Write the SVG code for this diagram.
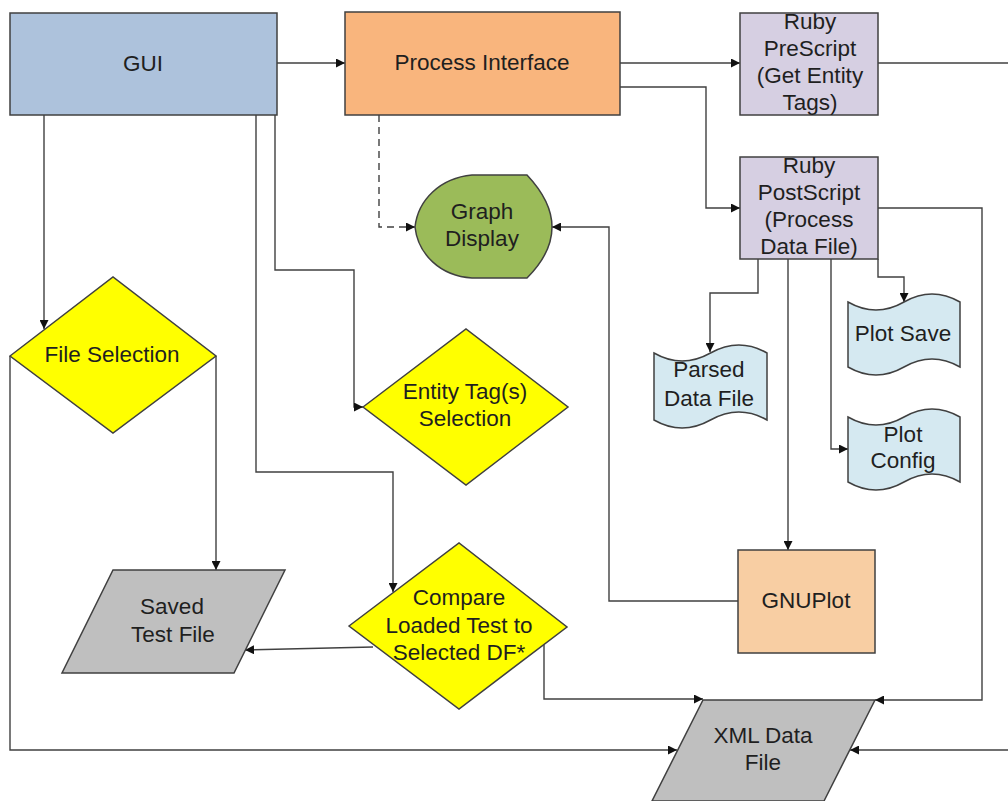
<svg xmlns="http://www.w3.org/2000/svg" width="1008" height="801" viewBox="0 0 1008 801">
<style>
.s{stroke:#404040;stroke-width:1.5}
.t{font-family:"Liberation Sans",Arial,sans-serif;font-size:22.5px;fill:#1f1f1f;text-anchor:middle}
.c{fill:none;stroke:#404040;stroke-width:1.4}
.d{stroke-dasharray:7 5}
</style>
<defs>
<marker id="a" viewBox="0 0 10 10" refX="10" refY="5" markerWidth="9" markerHeight="9" markerUnits="userSpaceOnUse" orient="auto">
<path d="M0,0 L10,5 L0,10 z" fill="#111"/>
</marker>
</defs>
<rect width="1008" height="801" fill="#fff"/>
<g id="connectors">
<path class="c" d="M277,63 H345" marker-end="url(#a)"/>
<path class="c" d="M620,63 H740" marker-end="url(#a)"/>
<path class="c" d="M878,63 H1008"/>
<path class="c" d="M620,87 H706 V208 H740" marker-end="url(#a)"/>
<path class="c d" d="M379,115 V227 H415" marker-end="url(#a)"/>
<path class="c" d="M878,208 H982 V700 H875" marker-end="url(#a)"/>
<path class="c" d="M758,259 V293 H710 V352" marker-end="url(#a)"/>
<path class="c" d="M788,259 V550" marker-end="url(#a)"/>
<path class="c" d="M831,259 V449 H848" marker-end="url(#a)"/>
<path class="c" d="M878,259 V277 H904 V302" marker-end="url(#a)"/>
<path class="c" d="M738,601 H609 V227 H552" marker-end="url(#a)"/>
<path class="c" d="M44,115 V329" marker-end="url(#a)"/>
<path class="c" d="M275,115 V270 H354 V407 H363" marker-end="url(#a)"/>
<path class="c" d="M256,115 V472 H393 V592" marker-end="url(#a)"/>
<path class="c" d="M216,356 V570" marker-end="url(#a)"/>
<path class="c" d="M10,356 V750 H677" marker-end="url(#a)"/>
<path class="c" d="M373,647 L245,650" marker-end="url(#a)"/>
<path class="c" d="M544,645 V699 H703" marker-end="url(#a)"/>
<path class="c" d="M1008,750 H850" marker-end="url(#a)"/>
</g>
<g id="gui">
<rect class="s" x="10" y="13" width="267" height="102" fill="#adc2dc"/>
<text class="t" x="143" y="71">GUI</text>
</g>
<g id="process-interface">
<rect class="s" x="345" y="12" width="275" height="103" fill="#f9b57d"/>
<text class="t" x="482" y="70">Process Interface</text>
</g>
<g id="ruby-prescript">
<rect class="s" x="740" y="13" width="138" height="102" fill="#d6cfe2"/>
<text class="t" x="810" y="29">Ruby</text>
<text class="t" x="810" y="56">PreScript</text>
<text class="t" x="810" y="83">(Get Entity</text>
<text class="t" x="810" y="110">Tags)</text>
</g>
<g id="ruby-postscript">
<rect class="s" x="740" y="157" width="138" height="102" fill="#d6cfe2"/>
<text class="t" x="809" y="173">Ruby</text>
<text class="t" x="809" y="200">PostScript</text>
<text class="t" x="809" y="227">(Process</text>
<text class="t" x="809" y="254">Data File)</text>
</g>
<g id="graph-display">
<path class="s" d="M527,175 L472,175 C440,178 418,200 415,227 C418,254 440,276 472,278 L527,278 C543,262 552,246 552,227 C552,208 543,192 527,175 Z" fill="#9bbb59"/>
<text class="t" x="482" y="219">Graph</text>
<text class="t" x="482" y="246">Display</text>
</g>
<g id="file-selection">
<path class="s" d="M10,356 L113,277 L216,356 L113,433 Z" fill="#ffff00"/>
<text class="t" x="112" y="362">File Selection</text>
</g>
<g id="entity-tag-selection">
<path class="s" d="M363,407 L466,329 L568,407 L466,485 Z" fill="#ffff00"/>
<text class="t" x="465" y="399">Entity Tag(s)</text>
<text class="t" x="465" y="426">Selection</text>
</g>
<g id="compare">
<path class="s" d="M349,626 L459,543 L567,627 L459,709 Z" fill="#ffff00"/>
<text class="t" x="459" y="605">Compare</text>
<text class="t" x="459" y="633">Loaded Test to</text>
<text class="t" x="459" y="660">Selected DF*</text>
</g>
<g id="saved-test-file">
<path class="s" d="M113,570 L285,570 L234,673 L62,673 Z" fill="#bfbfbf"/>
<text class="t" x="172" y="614">Saved</text>
<text class="t" x="173" y="642">Test File</text>
</g>
<g id="parsed-data-file">
<path class="s" d="M654,353 Q682,369 710.5,353 T767,353 L767,420 Q739,404 710.5,420 T654,420 Z" fill="#d5e9f1"/>
<text class="t" x="709" y="377">Parsed</text>
<text class="t" x="709" y="406">Data File</text>
</g>
<g id="plot-save">
<path class="s" d="M848,302 Q876,318 904,302 T960,302 L960,367 Q932,351 904,367 T848,367 Z" fill="#d5e9f1"/>
<text class="t" x="903" y="341">Plot Save</text>
</g>
<g id="plot-config">
<path class="s" d="M848,417 Q876,433 904,417 T960,417 L960,482 Q932,466 904,482 T848,482 Z" fill="#d5e9f1"/>
<text class="t" x="903" y="442">Plot</text>
<text class="t" x="903" y="468">Config</text>
</g>
<g id="gnuplot">
<rect class="s" x="738" y="550" width="137" height="103" fill="#f8cea3"/>
<text class="t" x="806" y="608">GNUPlot</text>
</g>
<g id="xml-data-file">
<path class="s" d="M703,700 L875,700 L824,801 L652,801 Z" fill="#bfbfbf"/>
<text class="t" x="763" y="743">XML Data</text>
<text class="t" x="763" y="770">File</text>
</g>
</svg>
